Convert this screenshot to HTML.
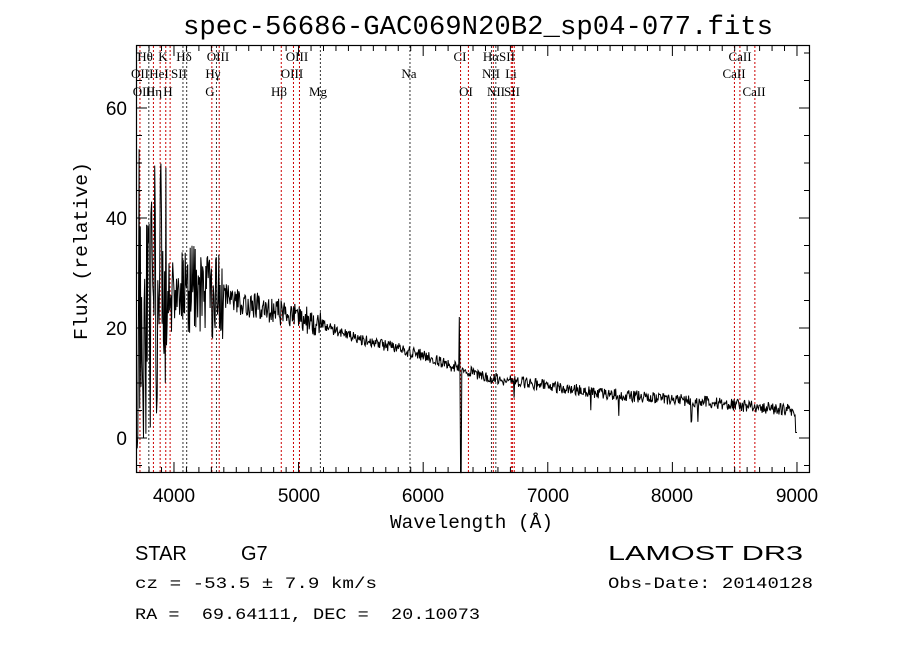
<!DOCTYPE html>
<html><head><meta charset="utf-8"><style>
html,body{margin:0;padding:0;background:#fff;}
svg{display:block;}
text{white-space:pre;}
</style></head><body>
<svg id="s" width="900" height="649" xmlns="http://www.w3.org/2000/svg" font-family="Liberation Mono, monospace">
<text x="183" y="34" font-size="27" textLength="590" lengthAdjust="spacingAndGlyphs">spec-56686-GAC069N20B2_sp04-077.fits</text>
<g id="lines"></g>
<path id="spec" fill="none" stroke="#000" stroke-width="1"/>
<rect x="136.5" y="45.5" width="673" height="427" fill="none" stroke="#000" stroke-width="1.2"/>
<g id="ticks" stroke="#000" stroke-width="1"></g>
<g font-family="Liberation Sans, sans-serif" font-size="19" text-anchor="middle">
<text x="174" y="502">4000</text><text x="299" y="502">5000</text><text x="423" y="502">6000</text>
<text x="548" y="502">7000</text><text x="672" y="502">8000</text><text x="797" y="502">9000</text>
</g>
<g font-family="Liberation Sans, sans-serif" font-size="19" text-anchor="end">
<text x="127" y="445">0</text><text x="127" y="335">20</text><text x="127" y="225">40</text><text x="127" y="115">60</text>
</g>
<text x="390" y="528" font-size="19" textLength="163" lengthAdjust="spacingAndGlyphs">Wavelength (Å)</text>
<text transform="translate(87,340) rotate(-90)" font-size="19" textLength="178" lengthAdjust="spacingAndGlyphs">Flux (relative)</text>
<g font-family="Liberation Sans, sans-serif" font-size="20">
<text x="135" y="560">STAR</text><text x="241" y="560">G7</text>
<text x="608" y="560" textLength="195" lengthAdjust="spacingAndGlyphs">LAMOST DR3</text>
</g>
<text x="135" y="588" font-size="16" textLength="242" lengthAdjust="spacingAndGlyphs">cz = -53.5 ± 7.9 km/s</text>
<text x="608" y="588" font-size="16" textLength="205" lengthAdjust="spacingAndGlyphs">Obs-Date: 20140128</text>
<text x="135" y="619" font-size="16" textLength="345" lengthAdjust="spacingAndGlyphs">RA =  69.64111, DEC =  20.10073</text>
<g id="labels" font-family="Liberation Serif, serif" font-size="13" text-anchor="middle"></g>
</svg>
<script>
var NS="http://www.w3.org/2000/svg";
function X(l){return 136.6+(l-3700)*0.1246;}
function Y(f){return 438-f*5.5;}
function el(t,a,p,txt){var e=document.createElementNS(NS,t);for(var k in a)e.setAttribute(k,a[k]);if(txt)e.textContent=txt;document.getElementById(p).appendChild(e);}
var L=[[3727,'r'],[3798,'k'],[3835,'r'],[3889,'r'],[3934,'r'],[3969,'r'],[4072,'k'],[4102,'k'],[4304,'r'],[4341,'k'],[4363,'r'],[4861,'r'],[4959,'r'],[5007,'r'],[5175,'k'],[5894,'k'],[6300,'r'],[6363,'r'],[6548,'k'],[6563,'r'],[6583,'k'],[6707,'r'],[6716,'r'],[6731,'r'],[8498,'r'],[8542,'r'],[8662,'r']];
L.forEach(function(l){var x=X(l[0]);el('line',{x1:x,x2:x,y1:46,y2:472,stroke:l[1]=='r'?'#c00':'#333','stroke-width':1,'stroke-dasharray':'2,2'},'lines');});
var T=[[145,61,'Hθ'],[163,61,'K'],[184,61,'Hδ'],[218,61,'OIII'],[297,61,'OIII'],[460,61,'CI'],[491,61,'Hα'],[507,61,'SII'],[740,61,'CaII'],
[140,78,'OII'],[159,78,'HeI'],[179,78,'SII'],[213,78,'Hγ'],[292,78,'OIII'],[409,78,'Na'],[491,78,'NII'],[511,78,'Li'],[734,78,'CaII'],
[144,96,'OIII'],[154,96,'Hη'],[168,96,'H'],[210,96,'G'],[279,96,'Hβ'],[318,96,'Mg'],[466,96,'OI'],[496,96,'NII'],[512,96,'SII'],[754,96,'CaII']];
T.forEach(function(t){el('text',{x:t[0],y:t[1]},'labels',t[2]);});
for(var w=3700;w<=9100;w+=100){var x=X(w),big=w%1000==0;el('line',{x1:x,x2:x,y1:472,y2:big?462:467},'ticks');el('line',{x1:x,x2:x,y1:46,y2:big?56:51},'ticks');}
for(var f=-5;f<=70;f+=5){var y=Y(f),big=f%20==0;el('line',{x1:137,x2:big?147:142,y1:y,y2:y},'ticks');el('line',{x1:809,x2:big?799:804,y1:y,y2:y},'ticks');}
var seed=11;function rnd(){seed=(seed*16807)%2147483647;return seed/2147483647;}
function base(l){var p=[[3700,22],[3900,27],[4200,27],[4500,25],[5000,22],[5500,18],[6000,15],[6500,11],[7000,9.5],[7500,8],[8000,7],[8500,6],[9000,5]];
for(var i=0;i<p.length-1;i++){if(l<=p[i+1][0]){var t=(l-p[i][0])/(p[i+1][0]-p[i][0]);return p[i][1]+t*(p[i+1][1]-p[i][1]);}}return 5;}
var d="";for(var l=3705;l<=9000;l+=5){var b=base(l),n;
if(l<3950)n=(rnd()-0.5)*48;else if(l<4400)n=(rnd()-0.5)*16;else if(l<5200)n=(rnd()-0.5)*5;else n=(rnd()-0.5)*2.2;
if(l<3760&&rnd()<0.3)n=30;
if(rnd()<0.02&&l>6500)n-=3;
var f=b+n;if(l>6285&&l<6292)f=22;if(l>6298&&l<6306)f=-7;if(l>=8990)f=1;if(f<-6)f=-6.3;if(f>60)f=55;
d+=(d?"L":"M")+X(l).toFixed(1)+","+Y(f).toFixed(1);}
document.getElementById('spec').setAttribute('d',d);
</script>
</body></html>
